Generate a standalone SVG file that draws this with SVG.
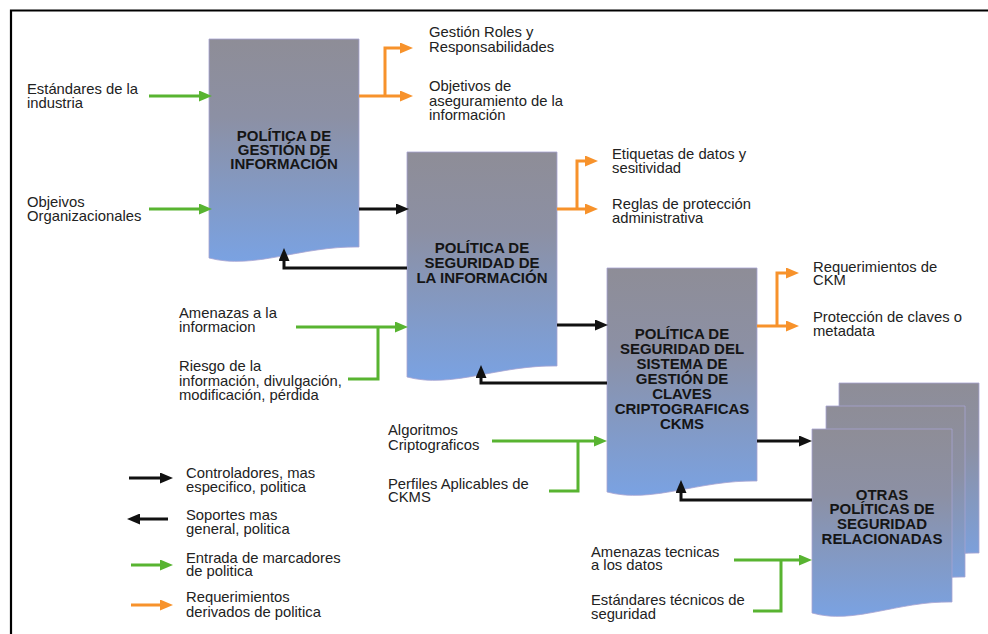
<svg xmlns="http://www.w3.org/2000/svg" width="988" height="634" viewBox="0 0 988 634">
<defs>
<linearGradient id="doc" x1="0" y1="0" x2="0" y2="1">
<stop offset="0" stop-color="#8e8d97"/>
<stop offset="0.35" stop-color="#8c90a4"/>
<stop offset="1" stop-color="#7aa2e2"/>
</linearGradient>
<marker id="ahK" markerUnits="userSpaceOnUse" markerWidth="13" markerHeight="11" refX="8" refY="5.5" orient="auto"><path d="M0,0 L13,5.5 L0,11 z" fill="#111"/></marker>
<marker id="ahG" markerUnits="userSpaceOnUse" markerWidth="13" markerHeight="11" refX="8" refY="5.5" orient="auto"><path d="M0,0 L13,5.5 L0,11 z" fill="#58b431"/></marker>
<marker id="ahO" markerUnits="userSpaceOnUse" markerWidth="13" markerHeight="11" refX="8" refY="5.5" orient="auto"><path d="M0,0 L13,5.5 L0,11 z" fill="#f7922b"/></marker>
</defs>
<style>
.doc{fill:url(#doc);stroke:#a7a3d2;stroke-width:0.8}
.t{font-family:"Liberation Sans",Arial,sans-serif;font-size:14.8px;fill:#222}
.h{font-family:"Liberation Sans",Arial,sans-serif;font-size:15px;font-weight:bold;fill:#151515;text-anchor:middle}
.k{fill:none;stroke:#111;stroke-width:3}
.g{fill:none;stroke:#58b431;stroke-width:3}
.o{fill:none;stroke:#f7922b;stroke-width:3}
.ka{marker-end:url(#ahK)}
.ga{marker-end:url(#ahG)}
.oa{marker-end:url(#ahO)}
</style>
<rect width="988" height="634" fill="#fff"/>
<path d="M988,10.5 H11 V634" fill="none" stroke="#000" stroke-width="2.2"/>

<g id="n1">
<path class="doc" d="M209,39 H359 V247 C300,246 254,270 209,258 Z"/>
<text class="h" x="284" y="140.5">POLÍTICA DE<tspan x="284" y="154.5">GESTIÓN DE</tspan><tspan x="284" y="168.5">INFORMACIÓN</tspan></text>
</g>

<g id="n2">
<path class="doc" d="M407,152 H557 V366 C498,365 452,389 407,377 Z"/>
<text class="h" x="482" y="253">POLÍTICA DE<tspan x="482" y="268">SEGURIDAD DE</tspan><tspan x="482" y="282.5">LA INFORMACIÓN</tspan></text>
</g>

<g id="n3">
<path class="doc" d="M607,268 H757 V481 C698,480 652,504 607,492 Z"/>
<text class="h" x="682" y="338.5">POLÍTICA DE<tspan x="682" y="353.5">SEGURIDAD DEL</tspan><tspan x="682" y="368.5">SISTEMA DE</tspan><tspan x="682" y="383.5">GESTIÓN DE</tspan><tspan x="682" y="398.5">CLAVES</tspan><tspan x="682" y="413.5">CRIPTOGRAFICAS</tspan><tspan x="682" y="428.5">CKMS</tspan></text>
</g>

<g id="n4">
<path class="doc" d="M839,383 H979 V553 C924,552 881,576 839,564 Z"/>
<path class="doc" d="M826,406 H965 V577 C910,576 868,600 826,588 Z"/>
<path class="doc" d="M812,429 H952 V602 C897,601 854,625 812,613 Z"/>
<text class="h" x="882" y="499.5">OTRAS<tspan x="882" y="514">POLÍTICAS DE</tspan><tspan x="882" y="528.5">SEGURIDAD</tspan><tspan x="882" y="543.5">RELACIONADAS</tspan></text>
</g>

<g id="connectors">
<path class="g ga" d="M149,96 H207"/>
<path class="g ga" d="M149,209 H207"/>
<path class="g ga" d="M296,327 H403"/>
<path class="g" d="M348,379 H378 V327"/>
<path class="g ga" d="M492,441 H602"/>
<path class="g" d="M549,491 H578 V441"/>
<path class="g ga" d="M734,560 H807"/>
<path class="g" d="M753,611 H781 V560"/>

<path class="k ka" d="M359,209 H404"/>
<path class="k ka" d="M557,325 H603"/>
<path class="k ka" d="M757,441 H807"/>
<path class="k ka" d="M407,268 H284 V253"/>
<path class="k ka" d="M607,383 H481 V370"/>
<path class="k ka" d="M812,500 H681 V485"/>

<path class="o oa" d="M359,96 H408"/>
<path class="o oa" d="M385,96 V48 H408"/>
<path class="o oa" d="M557,209 H593"/>
<path class="o oa" d="M577,209 V161 H593"/>
<path class="o oa" d="M757,326 H794"/>
<path class="o oa" d="M777,326 V273 H794"/>
</g>

<g id="labels">
<text class="t" x="27" y="94">Estándares de la<tspan x="27" y="107.5">industria</tspan></text>
<text class="t" x="27" y="207">Objeivos<tspan x="27" y="221">Organizacionales</tspan></text>

<text class="t" x="429" y="37">Gestión Roles y<tspan x="429" y="51.5">Responsabilidades</tspan></text>
<text class="t" x="429" y="91">Objetivos de<tspan x="429" y="105.5">aseguramiento de la</tspan><tspan x="429" y="120">información</tspan></text>

<text class="t" x="612" y="159">Etiquetas de datos y<tspan x="612" y="173">sesitividad</tspan></text>
<text class="t" x="612" y="209">Reglas de protección<tspan x="612" y="222.5">administrativa</tspan></text>

<text class="t" x="813" y="272">Requerimientos de<tspan x="813" y="285">CKM</tspan></text>
<text class="t" x="813" y="322">Protección de claves o<tspan x="813" y="336">metadata</tspan></text>

<text class="t" x="179" y="318">Amenazas a la<tspan x="179" y="332">informacion</tspan></text>
<text class="t" x="179" y="371">Riesgo de la<tspan x="179" y="385.5">información, divulgación,</tspan><tspan x="179" y="400">modificación, pérdida</tspan></text>

<text class="t" x="388" y="435">Algoritmos<tspan x="388" y="449.5">Criptograficos</tspan></text>
<text class="t" x="388" y="489">Perfiles Aplicables de<tspan x="388" y="502">CKMS</tspan></text>

<text class="t" x="591" y="557">Amenazas tecnicas<tspan x="591" y="570">a los datos</tspan></text>
<text class="t" x="591" y="605">Estándares técnicos de<tspan x="591" y="619">seguridad</tspan></text>
</g>

<g id="legend">
<path class="k ka" d="M129,478 H168"/>
<path class="k ka" d="M168,519 H132"/>
<path class="g ga" d="M131,565 H168"/>
<path class="o oa" d="M131,605 H168"/>
<text class="t" x="186" y="478">Controladores, mas<tspan x="186" y="492">especifico, politica</tspan></text>
<text class="t" x="186" y="520">Soportes mas<tspan x="186" y="534">general, politica</tspan></text>
<text class="t" x="186" y="563">Entrada de marcadores<tspan x="186" y="576">de politica</tspan></text>
<text class="t" x="186" y="602">Requerimientos<tspan x="186" y="616.5">derivados de politica</tspan></text>
</g>
</svg>
